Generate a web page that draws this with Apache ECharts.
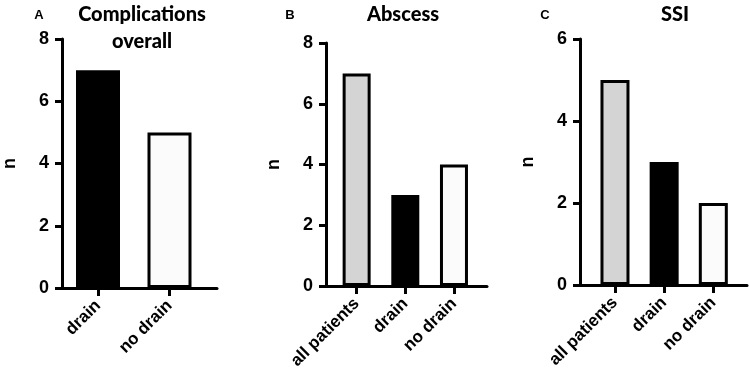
<!DOCTYPE html>
<html>
<head>
<meta charset="utf-8">
<script src="https://cdn.jsdelivr.net/npm/echarts@6/dist/echarts.min.js"></script>
<style>
  html, body { margin: 0; padding: 0; background: #fff; }
  #chart { width: 750px; height: 380px; }
</style>
</head>
<body>
<div id="chart"></div>
<script>
// values
const catsA = ["drain", "no drain"];
const valsA = [7, 5];
const catsB = ["all patients", "drain", "no drain"];
const valsB = [7, 3, 4];
const catsC = ["all patients", "drain", "no drain"];
const valsC = [5, 3, 2];
const ticksAB = [0, 2, 4, 6, 8];
const ticksC = [0, 2, 4, 6];

const fillFor = { "all patients": "#d4d4d4", "drain": "#000000", "no drain": "#fbfbfb" };
const axisFont = "'Liberation Sans', Arial, sans-serif";
const titleFont = "Lato, 'Open Sans', sans-serif";

const chart = echarts.init(document.getElementById("chart"));

// each panel: frame grid (y axis + x line) and bar grid (categories + bars)
const panels = [
  { frame: { left: 51, top: 39, width: 166, height: 249 }, bars: { left: 62.25, top: 39, width: 143, height: 249 },
    cats: catsA, vals: valsA, ticks: ticksAB, barWidth: 44 },
  { frame: { left: 326, top: 43, width: 161, height: 243 }, bars: { left: 332.3, top: 43, width: 146, height: 243 },
    cats: catsB, vals: valsB, ticks: ticksAB, barWidth: 28 },
  { frame: { left: 580, top: 39, width: 167, height: 246 }, bars: { left: 590.4, top: 39, width: 147.5, height: 246 },
    cats: catsC, vals: valsC, ticks: ticksC, barWidth: 29 }
];

const grid = [], xAxis = [], yAxis = [], series = [];
panels.forEach((p, i) => {
  const maxV = p.ticks[p.ticks.length - 1];
  grid.push(p.frame, p.bars);
  const fg = i * 2, bg = i * 2 + 1;
  xAxis.push({
    gridIndex: fg, type: "value", min: 0, max: 1,
    axisLine: { show: true, lineStyle: { color: "#000", width: 3 } },
    axisTick: { show: false }, axisLabel: { show: false }, splitLine: { show: false }
  });
  xAxis.push({
    gridIndex: bg, type: "category", data: p.cats,
    axisLine: { show: false },
    axisTick: { show: true, alignWithLabel: true, length: 8, lineStyle: { color: "#000", width: 3 } },
    axisLabel: { rotate: 45, margin: 15, color: "#000", fontFamily: axisFont, fontWeight: "bold", fontSize: 17 }
  });
  yAxis.push({
    gridIndex: fg, type: "value", min: 0, max: maxV, interval: 2,
    name: "n", nameLocation: "middle", nameGap: 43,
    nameTextStyle: { color: "#000", fontFamily: axisFont, fontWeight: "bold", fontSize: 18 },
    axisLine: { show: true, lineStyle: { color: "#000", width: 3 } },
    axisTick: { show: true, inside: false, length: 7, lineStyle: { color: "#000", width: 3 } },
    axisLabel: { margin: 13, color: "#000", fontFamily: axisFont, fontWeight: "bold", fontSize: 18 },
    splitLine: { show: false }
  });
  yAxis.push({
    gridIndex: bg, type: "value", min: 0, max: maxV, interval: 2, show: false
  });
  series.push({
    type: "bar", xAxisIndex: bg, yAxisIndex: bg, barWidth: p.barWidth,
    data: p.vals.map((v, k) => ({
      value: v,
      itemStyle: { color: fillFor[p.cats[k]], borderColor: "#000", borderWidth: 3 }
    })),
    silent: true
  });
});

const titleStyle = { color: "#000", fontFamily: titleFont, fontWeight: 900, fontSize: 20, lineHeight: 27 };
const letterStyle = { color: "#000", fontFamily: axisFont, fontWeight: "bold", fontSize: 13 };

chart.setOption({
  animation: false,
  backgroundColor: "#fff",
  title: [
    { text: "Complications\noverall", left: 137, top: -4, textAlign: "center", textStyle: titleStyle },
    { text: "Abscess", left: 398, top: -4, textAlign: "center", textStyle: titleStyle },
    { text: "SSI", left: 670, top: -4, textAlign: "center", textStyle: titleStyle },
    { text: "A", left: 34, top: 4, textAlign: "center", textStyle: letterStyle },
    { text: "B", left: 285, top: 4, textAlign: "center", textStyle: letterStyle },
    { text: "C", left: 540, top: 4, textAlign: "center", textStyle: letterStyle }
  ],
  grid: grid,
  xAxis: xAxis,
  yAxis: yAxis,
  series: series
});
</script>
</body>
</html>
